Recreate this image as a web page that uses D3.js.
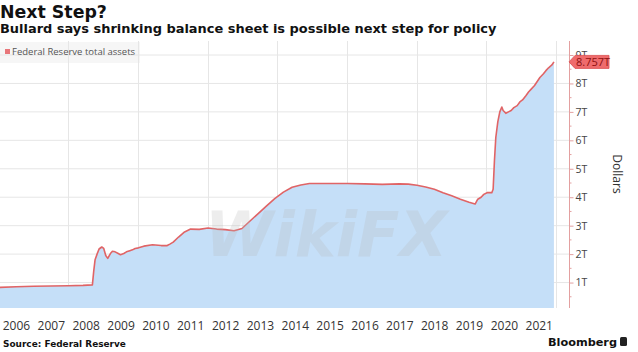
<!DOCTYPE html>
<html>
<head>
<meta charset="utf-8">
<script src="https://cdn.jsdelivr.net/npm/d3@7"></script>
<style>
  body { margin: 0; background: #fff; }
  svg { display: block; }
</style>
</head>
<body>
<div class="canvas"></div>
<script>
// Fed total assets (trillions of dollars)
const dates = [
  '2006-01-04','2006-07-05','2007-01-03','2007-07-04','2008-01-02','2008-06-04','2008-09-10','2008-09-24',
  '2008-10-08','2008-10-29','2008-11-19','2008-12-17','2009-01-07','2009-01-28','2009-02-18','2009-03-18',
  '2009-04-08','2009-05-06','2009-06-03','2009-07-01','2009-08-05','2009-09-02','2009-10-07','2009-11-04',
  '2009-12-02','2010-01-06','2010-03-03','2010-06-02','2010-09-01','2010-11-03','2010-12-01','2011-01-05',
  '2011-03-02','2011-05-04','2011-07-06','2011-10-05','2012-01-04','2012-04-04','2012-07-04','2012-10-03',
  '2012-12-26','2013-03-06','2013-06-05','2013-09-04','2013-12-04','2014-03-05','2014-06-04','2014-09-03',
  '2014-12-03','2015-06-03','2016-01-06','2016-07-06','2017-01-04','2017-07-05','2017-10-04','2018-01-03',
  '2018-04-04','2018-07-04','2018-10-03','2019-01-02','2019-04-03','2019-07-03','2019-09-04','2019-10-02',
  '2019-11-06','2019-12-04','2020-01-08','2020-02-26','2020-03-11','2020-03-25','2020-04-08','2020-04-29',
  '2020-05-20','2020-06-10','2020-06-24','2020-07-22','2020-08-19','2020-09-16','2020-10-14','2020-11-18',
  '2020-12-16','2021-01-13','2021-02-17','2021-03-17','2021-04-14','2021-05-19','2021-06-16','2021-07-14',
  '2021-08-18','2021-09-15','2021-10-13','2021-11-17','2021-12-08'
];
const assets = [
  0.83, 0.85, 0.87, 0.88, 0.89, 0.90, 0.92, 1.40,
  1.80, 2.00, 2.18, 2.25, 2.20, 1.95, 1.85, 2.02,
  2.10, 2.08, 2.03, 1.98, 2.02, 2.08, 2.12, 2.15,
  2.20, 2.22, 2.28, 2.33, 2.30, 2.30, 2.35, 2.42,
  2.60, 2.78, 2.88, 2.87, 2.92, 2.88, 2.86, 2.82,
  2.90, 3.12, 3.40, 3.68, 3.95, 4.18, 4.35, 4.43,
  4.48, 4.48, 4.48, 4.47, 4.45, 4.47, 4.46, 4.42,
  4.36, 4.28, 4.16, 4.05, 3.93, 3.82, 3.76, 3.93,
  4.00, 4.10, 4.16, 4.16, 4.28, 5.30, 6.10, 6.65,
  7.00, 7.17, 7.05, 6.95, 7.00, 7.05, 7.15, 7.22,
  7.35, 7.42, 7.57, 7.70, 7.80, 7.93, 8.07, 8.21,
  8.33, 8.45, 8.55, 8.65, 8.757
];
const years = d3.range(2006, 2022);
const yTicks = [1, 2, 3, 4, 5, 6, 7, 8, 9];
const lastLabel = '8.757T';

const data = dates.map((d, i) => ({date: d3.timeParse('%Y-%m-%d')(d), value: assets[i]}));

const width = 638, height = 352;
const svg = d3.select('.canvas')
  .append('svg')
    .attr('width', width)
    .attr('height', height);

const plot = {left: 0, right: 556, top: 41, bottom: 308};
const axisX = 569;

// scales
const x = d3.scaleTime()
  .domain([new Date(2006, 0, 1), new Date(2022, 0, 1)])
  .range([-1.4, 556.2]);
const y = d3.scaleLinear()
  .domain([0, 9])
  .range([311, 55]);

svg.append('clipPath').attr('id', 'clip')
  .append('rect')
    .attr('x', plot.left).attr('y', plot.top)
    .attr('width', plot.right - plot.left)
    .attr('height', plot.bottom - plot.top);

// legend box
svg.append('rect')
  .attr('x', 0).attr('y', 42).attr('width', 140).attr('height', 21)
  .attr('fill', '#f6f6f6');

// grid
svg.append('g')
  .selectAll('line')
  .data(yTicks)
  .join('line')
    .attr('x1', plot.left).attr('x2', axisX)
    .attr('y1', d => y(d)).attr('y2', d => y(d))
    .attr('stroke', '#e6e6e6').attr('stroke-width', 1);

const gridYears = d3.range(2008, 2023, 2);
svg.append('g')
  .selectAll('line')
  .data(gridYears)
  .join('line')
    .attr('x1', d => Math.round(x(new Date(d, 0, 1))) + 0.5)
    .attr('x2', d => Math.round(x(new Date(d, 0, 1))) + 0.5)
    .attr('y1', plot.top).attr('y2', plot.bottom)
    .attr('stroke', '#e6e6e6').attr('stroke-width', 1);

// area + line
const area = d3.area()
  .x(d => x(d.date))
  .y0(plot.bottom)
  .y1(d => y(d.value));
const line = d3.line()
  .x(d => x(d.date))
  .y(d => y(d.value));

const g = svg.append('g').attr('clip-path', 'url(#clip)');
g.append('path')
  .datum(data)
  .attr('d', area)
  .attr('fill', '#c5dff8');

// watermark
svg.append('text')
  .attr('x', 205).attr('y', 256)
  .attr('font-family', 'DejaVu Sans').attr('font-weight', 'bold')
  .attr('font-style', 'italic').attr('font-size', 62)
  .attr('fill', '#b9b9b9').attr('opacity', 0.25)
  .text('WikiFX');

g.append('path')
  .datum(data)
  .attr('d', line)
  .attr('fill', 'none')
  .attr('stroke', '#e06466')
  .attr('stroke-width', 1.6)
  .attr('stroke-linejoin', 'round');

// right axis
const yAxis = d3.axisRight(y)
  .tickValues(yTicks)
  .tickSize(4)
  .tickPadding(2)
  .tickFormat(d => d + 'T');
const yAxisGroup = svg.append('g')
  .attr('transform', `translate(${axisX + 0.5},0)`)
  .call(yAxis);
yAxisGroup.select('.domain').remove();
yAxisGroup.selectAll('line').attr('stroke', '#e3a0a0');
yAxisGroup.selectAll('text')
  .attr('font-family', 'Open Sans').attr('font-size', 10.5).attr('fill', '#444');

// minor ticks
svg.append('g')
  .selectAll('line')
  .data(d3.range(0.5, 9, 1))
  .join('line')
    .attr('x1', axisX).attr('x2', axisX + 2.5)
    .attr('y1', d => y(d)).attr('y2', d => y(d))
    .attr('stroke', '#e3a0a0');

svg.append('line')
  .attr('x1', axisX + 0.5).attr('x2', axisX + 0.5)
  .attr('y1', plot.top).attr('y2', plot.bottom)
  .attr('stroke', '#e3a0a0').attr('stroke-width', 1);

svg.append('text')
  .attr('transform', 'translate(613,174) rotate(90)')
  .attr('text-anchor', 'middle')
  .attr('font-family', 'Open Sans').attr('font-size', 12).attr('fill', '#333')
  .text('Dollars');

// last value tag
const last = data[data.length - 1];
const ty = y(last.value);
const tag = svg.append('g');
tag.append('path')
  .attr('d', `M${axisX},${ty} L${axisX + 6},${ty - 6.5} H609 V${ty + 6.5} H${axisX + 6} Z`)
  .attr('fill', '#ef6b6c').attr('stroke', '#d94f50').attr('stroke-width', 0.8);
tag.append('text')
  .attr('x', axisX + 7).attr('y', ty)
  .attr('dy', '0.36em')
  .attr('font-family', 'Open Sans').attr('font-size', 11).attr('fill', '#8e1010')
  .text(lastLabel);

// x axis labels at mid-year
const xAxis = d3.axisBottom(x)
  .tickValues(years.map(yr => new Date(yr, 6, 2)))
  .tickSize(0)
  .tickPadding(0)
  .tickFormat(d3.timeFormat('%Y'));
const xAxisGroup = svg.append('g')
  .attr('transform', 'translate(0,321)')
  .call(xAxis);
xAxisGroup.select('.domain').remove();
xAxisGroup.selectAll('text')
  .attr('font-family', 'Open Sans').attr('font-size', 12).attr('fill', '#333');

// legend
svg.append('rect')
  .attr('x', 5).attr('y', 49).attr('width', 5).attr('height', 5)
  .attr('fill', '#e8767a');
svg.append('text')
  .attr('x', 12).attr('y', 55)
  .attr('font-family', 'Open Sans').attr('font-size', 9.5).attr('fill', '#555')
  .text('Federal Reserve total assets');

// titles, fitted to the widths in the picture
const fitText = (sel, target) => {
  const w = sel.node().getComputedTextLength();
  const fs = parseFloat(sel.attr('font-size'));
  sel.attr('font-size', (fs * target / w).toFixed(2));
};

const title = svg.append('text')
  .attr('x', 0).attr('y', 18)
  .attr('font-family', 'DejaVu Sans').attr('font-weight', 'bold')
  .attr('font-size', 18).attr('fill', '#111')
  .text('Next Step?');
fitText(title, 107);

const subtitle = svg.append('text')
  .attr('x', 0).attr('y', 33)
  .attr('font-family', 'DejaVu Sans').attr('font-weight', 'bold')
  .attr('font-size', 12).attr('fill', '#111')
  .text('Bullard says shrinking balance sheet is possible next step for policy');
fitText(subtitle, 497);

const source = svg.append('text')
  .attr('x', 3).attr('y', 347)
  .attr('font-family', 'DejaVu Sans').attr('font-weight', 'bold')
  .attr('font-size', 9).attr('fill', '#111')
  .text('Source: Federal Reserve');
fitText(source, 123);

const brand = svg.append('text')
  .attr('x', 548).attr('y', 346)
  .attr('font-family', 'DejaVu Sans').attr('font-weight', 'bold')
  .attr('font-size', 11).attr('fill', '#111')
  .text('Bloomberg');
fitText(brand, 69);

svg.append('rect')
  .attr('x', 620).attr('y', 337).attr('width', 7).attr('height', 9)
  .attr('rx', 1.5).attr('fill', '#222');
</script>
</body>
</html>
